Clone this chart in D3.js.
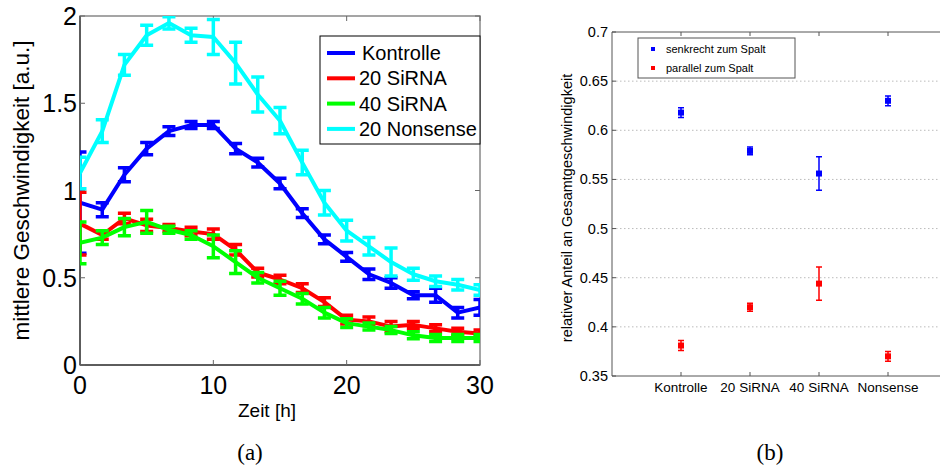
<!DOCTYPE html>
<html>
<head>
<meta charset="utf-8">
<script src="https://cdn.jsdelivr.net/npm/d3@7"></script>
<style>
    body { margin: 0; background: #fff; }
    text { font-family: "Liberation Sans", Arial, sans-serif; fill: #000; }
</style>
</head>
<body>
<div id="vis"></div>
<script>
// left panel (a): mean speed over time
let times = [0, 1.67, 3.33, 5, 6.67, 8.33, 10, 11.67, 13.33, 15, 16.67, 18.33, 20, 21.67, 23.33, 25, 26.67, 28.33, 30];

let kontrolle = [0.93, 0.89, 1.09, 1.24, 1.34, 1.375, 1.375, 1.24, 1.16, 1.04, 0.87, 0.72, 0.62, 0.52, 0.47, 0.40, 0.40, 0.30, 0.33];
let kontrolleErr = [0.29, 0.04, 0.04, 0.035, 0.025, 0.02, 0.02, 0.03, 0.025, 0.03, 0.025, 0.025, 0.025, 0.03, 0.03, 0.02, 0.04, 0.03, 0.045];

let sirna20 = [0.81, 0.745, 0.84, 0.80, 0.785, 0.765, 0.75, 0.66, 0.53, 0.49, 0.44, 0.36, 0.26, 0.25, 0.22, 0.23, 0.21, 0.19, 0.18];
let sirna20Err = [0.18, 0.025, 0.03, 0.035, 0.02, 0.025, 0.03, 0.03, 0.025, 0.025, 0.025, 0.025, 0.025, 0.025, 0.03, 0.02, 0.02, 0.02, 0.02];

let sirna40 = [0.70, 0.73, 0.79, 0.82, 0.775, 0.745, 0.68, 0.59, 0.50, 0.44, 0.38, 0.30, 0.24, 0.22, 0.20, 0.17, 0.155, 0.155, 0.155];
let sirna40Err = [0.12, 0.04, 0.05, 0.065, 0.02, 0.025, 0.065, 0.065, 0.03, 0.04, 0.03, 0.03, 0.025, 0.02, 0.02, 0.02, 0.02, 0.02, 0.02];

let nonsense = [1.10, 1.34, 1.72, 1.89, 1.96, 1.89, 1.88, 1.73, 1.55, 1.40, 1.16, 0.93, 0.77, 0.68, 0.59, 0.52, 0.48, 0.46, 0.43];
let nonsenseErr = [0.09, 0.065, 0.06, 0.057, 0.035, 0.04, 0.1, 0.12, 0.1, 0.075, 0.07, 0.07, 0.06, 0.05, 0.08, 0.035, 0.03, 0.03, 0.03];

let seriesNames = ["Kontrolle", "20 SiRNA", "40 SiRNA", "20 Nonsense"];
let seriesColors = ["#0000ff", "#ff0000", "#00ff00", "#00ffff"];

let xTicksA = [0, 10, 20, 30];
let yTicksA = [0, 0.5, 1, 1.5, 2];

// right panel (b): relative share of total speed
let groups = ["Kontrolle", "20 SiRNA", "40 SiRNA", "Nonsense"];
let senkrecht = [0.618, 0.579, 0.556, 0.630];
let senkrechtErr = [0.005, 0.004, 0.017, 0.005];
let parallel = [0.381, 0.420, 0.444, 0.370];
let parallelErr = [0.005, 0.004, 0.017, 0.005];
let legendB = ["senkrecht zum Spalt", "parallel zum Spalt"];
let yTicksB = [0.35, 0.4, 0.45, 0.5, 0.55, 0.6, 0.65, 0.7];

let width = 945,
    height = 469;

let svg = d3.select("#vis")
    .append("svg")
    .attr("width", width)
    .attr("height", height);

// ---------- panel (a) ----------
let a = {left: 80, right: 480, top: 16, bottom: 365};

let xA = d3.scaleLinear().domain([0, 30]).range([a.left, a.right]);
let yA = d3.scaleLinear().domain([0, 2]).range([a.bottom, a.top]);

svg.append("defs").append("clipPath")
    .attr("id", "clipA")
    .append("rect")
    .attr("x", a.left).attr("y", a.top)
    .attr("width", a.right - a.left).attr("height", a.bottom - a.top);

let gA = svg.append("g");

// box
gA.append("rect")
    .attr("x", a.left).attr("y", a.top)
    .attr("width", a.right - a.left).attr("height", a.bottom - a.top)
    .attr("fill", "none")
    .attr("stroke", "#888")
    .attr("stroke-width", 1.5);
gA.append("line")
    .attr("x1", a.left).attr("x2", a.left).attr("y1", a.top).attr("y2", a.bottom)
    .attr("stroke", "#444").attr("stroke-width", 1.5);
gA.append("line")
    .attr("x1", a.left).attr("x2", a.right).attr("y1", a.bottom).attr("y2", a.bottom)
    .attr("stroke", "#444").attr("stroke-width", 1.5);

let axA = gA.append("g").attr("class", "axis");

// inward ticks on all four sides
axA.selectAll(".xt").data(xTicksA).enter().append("path")
    .attr("d", d => "M" + xA(d) + "," + a.bottom + "v-5M" + xA(d) + "," + a.top + "v5")
    .attr("stroke", "#666").attr("stroke-width", 1);
axA.selectAll(".yt").data(yTicksA).enter().append("path")
    .attr("d", d => "M" + a.left + "," + yA(d) + "h5M" + a.right + "," + yA(d) + "h-5")
    .attr("stroke", "#666").attr("stroke-width", 1);

axA.selectAll(".xl").data(xTicksA).enter().append("text")
    .attr("x", d => xA(d))
    .attr("y", a.bottom + 29)
    .attr("text-anchor", "middle")
    .style("font-size", "25px")
    .text(d => d);
axA.selectAll(".yl").data(yTicksA).enter().append("text")
    .attr("x", a.left - 3)
    .attr("y", d => yA(d) + 9)
    .attr("text-anchor", "end")
    .style("font-size", "25px")
    .text(d3.format("~g"));

gA.append("text")
    .attr("x", 267)
    .attr("y", 417)
    .attr("text-anchor", "middle")
    .style("font-size", "19px")
    .text("Zeit [h]");

gA.append("text")
    .attr("transform", "translate(29," + ((a.top + a.bottom) / 2) + ") rotate(-90)")
    .attr("text-anchor", "middle")
    .style("font-size", "22.5px")
    .text("mittlere Geschwindigkeit [a.u.]");

let seriesA = [
    {vals: kontrolle, err: kontrolleErr},
    {vals: sirna20, err: sirna20Err},
    {vals: sirna40, err: sirna40Err},
    {vals: nonsense, err: nonsenseErr}
];

let plotA = gA.append("g").attr("clip-path", "url(#clipA)");
let lineA = d3.line().x(d => xA(d[0])).y(d => yA(d[1]));
let cap = 6.5;

seriesA.forEach(function (s, k) {
    let pts = times.map((t, i) => [t, s.vals[i], s.err[i]]);
    let g = plotA.append("g");
    g.append("path")
        .datum(pts)
        .attr("d", lineA)
        .attr("fill", "none")
        .attr("stroke", seriesColors[k])
        .attr("stroke-width", 4)
        .attr("stroke-linejoin", "round");
    g.selectAll(".eb").data(pts).enter().append("path")
        .attr("d", function (d) {
            let x = xA(d[0]), y0 = yA(d[1] - d[2]), y1 = yA(d[1] + d[2]);
            return "M" + x + "," + y0 + "V" + y1 +
                "M" + (x - cap) + "," + y0 + "H" + (x + cap) +
                "M" + (x - cap) + "," + y1 + "H" + (x + cap);
        })
        .attr("fill", "none")
        .attr("stroke", seriesColors[k])
        .attr("stroke-width", 3.5);
});

// legend (a)
let legA = gA.append("g").attr("transform", "translate(320,36)");
legA.append("rect")
    .attr("width", 160).attr("height", 108)
    .attr("fill", "#fff").attr("stroke", "#000").attr("stroke-width", 1);
legA.selectAll(".ll").data(seriesNames).enter().append("line")
    .attr("x1", 7).attr("x2", 35)
    .attr("y1", (d, i) => 17 + i * 25.3).attr("y2", (d, i) => 17 + i * 25.3)
    .attr("stroke", (d, i) => seriesColors[i])
    .attr("stroke-width", 4);
legA.selectAll(".lt").data(seriesNames).enter().append("text")
    .attr("x", (d, i) => i === 0 ? 42 : 39)
    .attr("y", (d, i) => 24 + i * 25.3)
    .style("font-size", "20px")
    .text(d => d);

// ---------- panel (b) ----------
let b = {left: 612, right: 940, top: 32, bottom: 376};

let xB = d3.scaleLinear().domain([0, 5]).range([b.left, b.left + 5 * 69]);
let yB = d3.scaleLinear().domain([0.35, 0.7]).range([b.bottom, b.top]);

let gB = svg.append("g");

gB.selectAll(".grid").data(yTicksB.slice(1, -1)).enter().append("line")
    .attr("x1", b.left).attr("x2", b.right)
    .attr("y1", d => yB(d)).attr("y2", d => yB(d))
    .attr("stroke", "#bbb")
    .attr("stroke-width", 1)
    .attr("stroke-dasharray", "1.5,2.5");

gB.append("line")
    .attr("x1", b.left).attr("x2", b.left).attr("y1", b.top).attr("y2", b.bottom)
    .attr("stroke", "#555").attr("stroke-width", 1);
gB.append("line")
    .attr("x1", b.left).attr("x2", b.right).attr("y1", b.bottom).attr("y2", b.bottom)
    .attr("stroke", "#555").attr("stroke-width", 1);
gB.append("line")
    .attr("x1", b.left).attr("x2", b.right).attr("y1", b.top).attr("y2", b.top)
    .attr("stroke", "#555").attr("stroke-width", 1);

gB.selectAll(".xt").data(groups).enter().append("path")
    .attr("d", (d, i) => "M" + xB(i + 1) + "," + b.bottom + "v-4M" + xB(i + 1) + "," + b.top + "v4")
    .attr("stroke", "#555").attr("stroke-width", 1);
gB.selectAll(".yt").data(yTicksB).enter().append("path")
    .attr("d", d => "M" + b.left + "," + yB(d) + "h4")
    .attr("stroke", "#555").attr("stroke-width", 1);

gB.selectAll(".yl").data(yTicksB).enter().append("text")
    .attr("x", b.left - 4)
    .attr("y", d => yB(d) + 5)
    .attr("text-anchor", "end")
    .style("font-size", "14.5px")
    .text(d3.format("~g"));
gB.selectAll(".xl").data(groups).enter().append("text")
    .attr("x", (d, i) => xB(i + 1))
    .attr("y", b.bottom + 16)
    .attr("text-anchor", "middle")
    .style("font-size", "13.5px")
    .text(d => d);

gB.append("text")
    .attr("transform", "translate(572," + ((b.top + b.bottom) / 2 + 4) + ") rotate(-90)")
    .attr("text-anchor", "middle")
    .style("font-size", "14.5px")
    .text("relativer Anteil an Gesamtgeschwindigkeit");

let seriesB = [
    {vals: senkrecht, err: senkrechtErr, color: "#0000ff"},
    {vals: parallel, err: parallelErr, color: "#ff0000"}
];
let capB = 3;

seriesB.forEach(function (s) {
    let g = gB.append("g");
    g.selectAll(".eb").data(s.vals).enter().append("path")
        .attr("d", function (d, i) {
            let x = xB(i + 1), y0 = yB(d - s.err[i]), y1 = yB(d + s.err[i]);
            return "M" + x + "," + y0 + "V" + y1 +
                "M" + (x - capB) + "," + y0 + "H" + (x + capB) +
                "M" + (x - capB) + "," + y1 + "H" + (x + capB);
        })
        .attr("fill", "none")
        .attr("stroke", s.color)
        .attr("stroke-width", 1.5);
    g.selectAll(".mk").data(s.vals).enter().append("rect")
        .attr("x", (d, i) => xB(i + 1) - 3)
        .attr("y", d => yB(d) - 3)
        .attr("width", 6).attr("height", 6)
        .attr("fill", s.color);
});

// legend (b)
let legB = gB.append("g").attr("transform", "translate(638,38)");
legB.append("rect")
    .attr("width", 157).attr("height", 40)
    .attr("fill", "#fff").attr("stroke", "#555").attr("stroke-width", 1);
legB.selectAll(".lm").data(legendB).enter().append("rect")
    .attr("x", 13).attr("y", (d, i) => 9 + i * 19)
    .attr("width", 4).attr("height", 4)
    .attr("fill", (d, i) => seriesB[i].color);
legB.selectAll(".lt").data(legendB).enter().append("text")
    .attr("x", 28)
    .attr("y", (d, i) => 15 + i * 19)
    .style("font-size", "11px")
    .text(d => d);

// captions
svg.selectAll(".cap").data([["(a)", 250], ["(b)", 770]]).enter().append("text")
    .attr("x", d => d[1])
    .attr("y", 460)
    .attr("text-anchor", "middle")
    .style("font-family", "'Liberation Serif', serif")
    .style("font-size", "23px")
    .text(d => d[0]);
</script>
</body>
</html>
